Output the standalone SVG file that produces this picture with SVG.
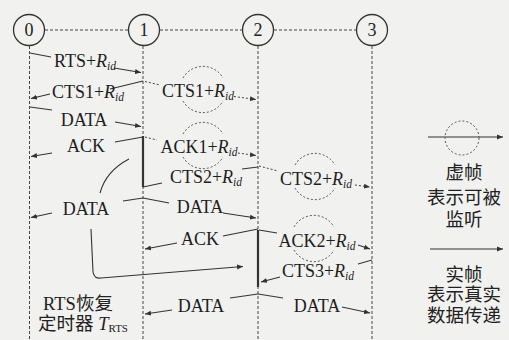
<svg xmlns="http://www.w3.org/2000/svg" width="509" height="340" viewBox="0 0 509 340">
<defs>
<marker id="ah" markerWidth="7" markerHeight="6" refX="6" refY="3" orient="auto" markerUnits="userSpaceOnUse">
<path d="M0,0.5 L6,3 L0,5.5 z" fill="#333"/>
</marker>
<style>
.bg{fill:#f1f1ef}
.node circle{fill:none;stroke:#333;stroke-width:1.3}
.node text{font-family:"Liberation Serif","DejaVu Serif",serif;font-size:18px;fill:#222;text-anchor:middle}
.life{stroke:#444;stroke-width:1;stroke-dasharray:3 2;fill:none}
.link{stroke:#444;stroke-width:1;stroke-dasharray:3 2;fill:none}
.real{stroke:#333;stroke-width:1.1;fill:none}
.virt{stroke:#444;stroke-width:1;stroke-dasharray:2 2;fill:none}
.vc{stroke:#555;stroke-width:1;stroke-dasharray:2 2;fill:none}
.busy{stroke:#333;stroke-width:2.2;fill:none}
.lbl{font-family:"Liberation Serif","DejaVu Serif",serif;font-size:18px;fill:#1e1e1e;text-anchor:middle}
.it{font-style:italic}
.sb{font-size:11.5px;font-style:italic}
.sr{font-size:11px}
.cjk{font-family:"Liberation Serif","Noto Sans CJK SC",serif;font-size:18.5px;fill:#222;text-anchor:middle}
</style>
</defs>
<rect class="bg" x="0" y="0" width="509" height="340"/>

<g id="node-0" class="node"><circle cx="29" cy="30" r="15.5"/><text x="29" y="36">0</text></g>
<g id="node-1" class="node"><circle cx="144" cy="30" r="15.5"/><text x="144" y="36">1</text></g>
<g id="node-2" class="node"><circle cx="258" cy="30" r="15.5"/><text x="258" y="36">2</text></g>
<g id="node-3" class="node"><circle cx="372" cy="30" r="15.5"/><text x="372" y="36">3</text></g>

<g id="connectors">
<line class="link" x1="45" y1="30" x2="128" y2="30"/>
<line class="link" x1="160" y1="30" x2="242" y2="30"/>
<line class="link" x1="274" y1="30" x2="356" y2="30"/>
<line class="life" x1="29.5" y1="46" x2="29.5" y2="340"/>
<line class="life" x1="143" y1="46" x2="143" y2="340"/>
<line class="life" x1="258" y1="46" x2="258" y2="340"/>
<line class="life" x1="372" y1="46" x2="372" y2="340"/>

<line class="real" x1="30" y1="53" x2="51" y2="57"/>
<line class="real" x1="114" y1="68" x2="141" y2="72.5" marker-end="url(#ah)"/>
<line class="real" x1="143" y1="81" x2="110" y2="89"/>
<line class="real" x1="50" y1="94" x2="31" y2="98.5" marker-end="url(#ah)"/>
<line class="virt" x1="145" y1="81.5" x2="160" y2="85"/>
<line class="virt" x1="234" y1="96.5" x2="256" y2="99.5" marker-end="url(#ah)"/>
<path class="vc" d="M183,78 A23,23 0 0 1 223,78"/>
<path class="vc" d="M183,101 A23,23 0 0 0 223,101"/>
<line class="real" x1="30" y1="107" x2="52" y2="110"/>
<line class="real" x1="115" y1="122" x2="141" y2="126.5" marker-end="url(#ah)"/>
<line class="real" x1="143" y1="137" x2="115" y2="142"/>
<line class="real" x1="52" y1="153" x2="31" y2="156.5" marker-end="url(#ah)"/>
<line class="virt" x1="145" y1="137" x2="157" y2="140"/>
<line class="virt" x1="238" y1="153" x2="256" y2="155.5" marker-end="url(#ah)"/>
<path class="vc" d="M183,134 A23,23 0 0 1 223,134"/>
<path class="vc" d="M183,157 A23,23 0 0 0 223,157"/>
<line class="busy" x1="143" y1="136" x2="143" y2="187"/>
<line class="real" x1="258" y1="167" x2="242" y2="169"/>
<line class="real" x1="162" y1="183" x2="143" y2="187"/>
<line class="virt" x1="259" y1="166" x2="278" y2="171"/>
<line class="virt" x1="355" y1="185" x2="370" y2="187" marker-end="url(#ah)"/>
<path class="vc" d="M295,165 A23,23 0 0 1 335,165"/>
<path class="vc" d="M295,188 A23,23 0 0 0 335,188"/>
<path class="real" d="M129,159 Q106,171 100,193"/>
<path class="real" d="M91,229 L93,272 Q94,279 101,278 L243,266.5" marker-end="url(#ah)"/>
<line class="real" x1="143" y1="198" x2="123" y2="201"/>
<line class="real" x1="52" y1="213" x2="31" y2="217.5" marker-end="url(#ah)"/>
<line class="real" x1="143" y1="198" x2="169" y2="203"/>
<line class="real" x1="223" y1="213" x2="256" y2="218" marker-end="url(#ah)"/>
<line class="real" x1="258" y1="229" x2="223" y2="236"/>
<line class="real" x1="177" y1="243" x2="145" y2="249" marker-end="url(#ah)"/>
<line class="real" x1="259" y1="230" x2="277" y2="233"/>
<line class="real" x1="358" y1="245" x2="370" y2="249" marker-end="url(#ah)"/>
<path class="vc" d="M294,227 A23,23 0 0 1 334,227"/>
<path class="vc" d="M294,250 A23,23 0 0 0 334,250"/>
<line class="busy" x1="258" y1="230" x2="258" y2="287"/>
<line class="real" x1="372" y1="260" x2="358" y2="264"/>
<line class="real" x1="280" y1="277" x2="261" y2="282" marker-end="url(#ah)"/>
<line class="real" x1="258" y1="294" x2="230" y2="298"/>
<line class="real" x1="172" y1="310" x2="145" y2="314" marker-end="url(#ah)"/>
<line class="real" x1="258" y1="294" x2="283" y2="298"/>
<line class="real" x1="342" y1="307" x2="370" y2="313" marker-end="url(#ah)"/>
</g>

<g id="labels">
<text class="lbl" x="85" y="67">RTS+<tspan class="it">R</tspan><tspan class="sb" dy="3">id</tspan></text>
<text class="lbl" x="88" y="98">CTS1+<tspan class="it">R</tspan><tspan class="sb" dy="3">id</tspan></text>
<text class="lbl" x="198" y="97">CTS1+<tspan class="it">R</tspan><tspan class="sb" dy="3">id</tspan></text>
<text class="lbl" x="84" y="126">DATA</text>
<text class="lbl" x="86" y="152">ACK</text>
<text class="lbl" x="199" y="153">ACK1+<tspan class="it">R</tspan><tspan class="sb" dy="3">id</tspan></text>
<text class="lbl" x="206" y="183">CTS2+<tspan class="it">R</tspan><tspan class="sb" dy="3">id</tspan></text>
<text class="lbl" x="316" y="185">CTS2+<tspan class="it">R</tspan><tspan class="sb" dy="3">id</tspan></text>
<text class="lbl" x="86" y="215">DATA</text>
<text class="lbl" x="200" y="213">DATA</text>
<text class="lbl" x="200" y="245">ACK</text>
<text class="lbl" x="317" y="247">ACK2+<tspan class="it">R</tspan><tspan class="sb" dy="3">id</tspan></text>
<text class="lbl" x="318" y="277">CTS3+<tspan class="it">R</tspan><tspan class="sb" dy="3">id</tspan></text>
<text class="lbl" x="201" y="312">DATA</text>
<text class="lbl" x="317" y="312">DATA</text>
<text class="cjk" x="78" y="310">RTS恢复</text>
<text class="cjk" x="83" y="330">定时器 <tspan class="it">T</tspan><tspan class="sr" dy="2">RTS</tspan></text>
</g>

<g id="legend">
<line class="real" x1="428" y1="137" x2="503" y2="137" marker-end="url(#ah)"/>
<circle class="vc" cx="462" cy="138" r="17"/>
<text class="cjk" x="464" y="179">虚帧</text>
<text class="cjk" x="464" y="204">表示可被</text>
<text class="cjk" x="464" y="226">监听</text>
<line class="real" x1="430" y1="249" x2="503" y2="249" marker-end="url(#ah)"/>
<text class="cjk" x="464" y="281">实帧</text>
<text class="cjk" x="464" y="301">表示真实</text>
<text class="cjk" x="464" y="322">数据传递</text>
</g>
</svg>
